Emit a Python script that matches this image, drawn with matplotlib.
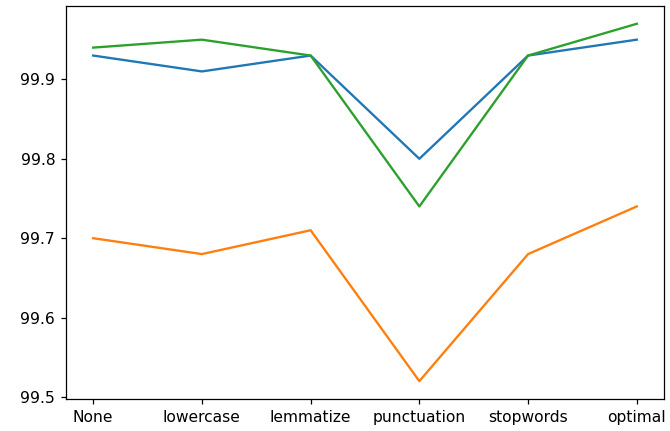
import matplotlib
matplotlib.use("Agg")
import matplotlib.pyplot as plt

steps = ["None", "lowercase", "lemmatize", "punctuation", "stopwords", "optimal"]
acc_a = [99.93, 99.91, 99.93, 99.80, 99.93, 99.95]
acc_b = [99.70, 99.68, 99.71, 99.52, 99.68, 99.74]
acc_c = [99.94, 99.95, 99.93, 99.74, 99.93, 99.97]

fig = plt.figure(figsize=(6, 3.86), dpi=670 / 6)
ax = fig.add_axes([0.0985, 0.0742, 0.8925, 0.912])

ax.plot(steps, acc_a)
ax.plot(steps, acc_b)
ax.plot(steps, acc_c)

ax.set_yticks([99.5, 99.6, 99.7, 99.8, 99.9])

fig.savefig("out.png", dpi=670 / 6)
